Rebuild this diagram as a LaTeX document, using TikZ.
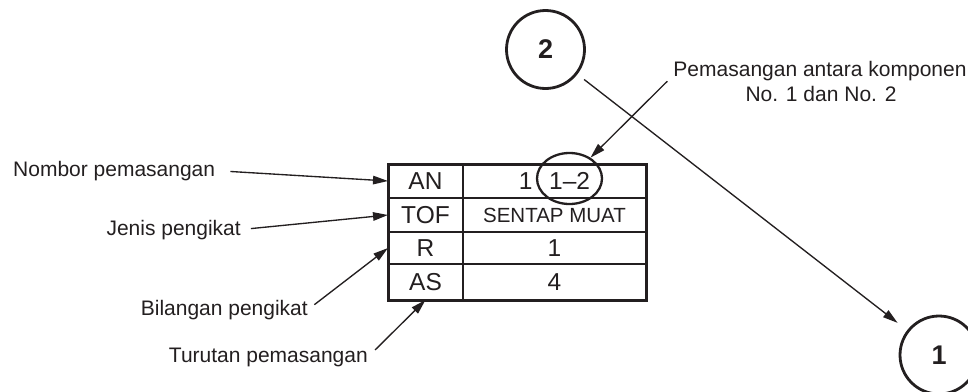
\documentclass[tikz,border=0pt]{standalone}
\usepackage{fontspec}
\setmainfont{Liberation Sans}
\usetikzlibrary{arrows.meta,shapes.geometric}
\definecolor{inkc}{RGB}{35,31,32}
\begin{document}
\begin{tikzpicture}[x=1pt,y=-1pt,
  lbl/.style={inner sep=0pt, text=inkc, font=\fontsize{21}{25}\selectfont},
  pointer/.style={draw=inkc, line width=1.35pt, -{Triangle[length=15pt,width=8.5pt]}},
  cell/.style={draw=inkc, line width=1.5pt, inner sep=0pt, outer sep=0pt,
    text=inkc, font=\fontsize{24.5}{28}\selectfont, text height=17.5pt, text depth=0pt},
  keycell/.style={cell, minimum width=75pt},
  valcell/.style={cell, minimum width=183pt},
  bubble/.style={circle, draw=inkc, line width=2.8pt, minimum size=78pt, inner sep=0pt,
    text=inkc, font=\fontsize{27}{30}\selectfont\bfseries}]
\useasboundingbox (0,0) rectangle (968,391);

% data block: key column and value column
\node[keycell, minimum height=34pt] (kAN)  at (425.5,181) {AN};
\node[valcell, minimum height=34pt] (vAN)  at (554.5,181) {1\hspace{16.7pt}1\textendash2};
\node[keycell, minimum height=34pt] (kTOF) at (425.5,215) {TOF};
\node[valcell, minimum height=34pt, font=\fontsize{20.5}{24}\selectfont, text height=14.7pt]
  (vTOF) at (554.5,215) {SENTAP MUAT};
\node[keycell, minimum height=32pt] (kR)   at (425.5,248) {R};
\node[valcell, minimum height=32pt] (vR)   at (554.5,248) {1};
\node[keycell, minimum height=36pt] (kAS)  at (425.5,282) {AS};
\node[valcell, minimum height=36pt] (vAS)  at (554.5,282) {4};
\draw[draw=inkc, line width=3pt] (kAN.north west) rectangle (vAS.south east);

% ring round the joint number
\node[ellipse, draw=inkc, line width=2.3pt, minimum width=65pt, minimum height=51pt, inner sep=0pt]
  (ring) at (569.5,178.5) {};

% component bubbles
\node[bubble] (c2) at (545.5,49.5) {2};
\node[bubble] (c1) at (939,355) {1};
\draw[pointer, shorten <=8.5pt, shorten >=12pt] (c2) -- (c1);

% callout labels
\node[lbl, anchor=base west] (lbNombor) at (13,176) {Nombor pemasangan};
\node[lbl, anchor=base east] (lbJenis)  at (241,235) {Jenis pengikat};
\node[lbl, anchor=base east] (lbBil)    at (308,315) {Bilangan pengikat};
\node[lbl, anchor=base east] (lbTur)    at (368,362) {Turutan pemasangan};
\node[lbl, anchor=base] (noteA) at (820,76.7)  {Pemasangan antara komponen};
\node[lbl, anchor=base] (noteB) at (821,101.7) {No. 1 dan No. 2};

\draw[pointer, shorten <=15pt] (lbNombor.east) -- (kAN.west);
\draw[pointer, shorten <=10pt] (lbJenis.east) -- (kTOF.west);
\draw[pointer, shorten <=8pt]  (lbBil.east) -- (kR.west);
\draw[pointer, shorten <=10pt] (lbTur.east) -- (kAS.south);
\draw[pointer] ([xshift=-6pt]noteA.south west) -- (ring);
\end{tikzpicture}
\end{document}
